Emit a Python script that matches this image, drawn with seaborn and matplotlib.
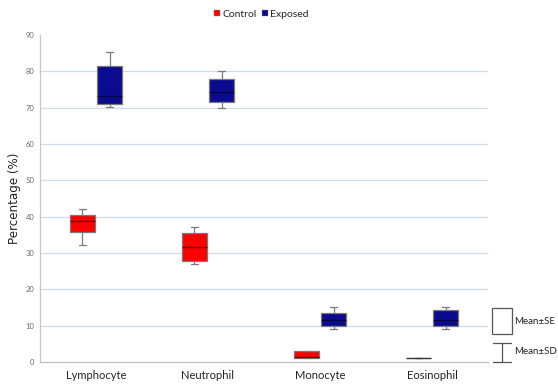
import numpy as np
import pandas as pd
import matplotlib
matplotlib.use("Agg")
import matplotlib.pyplot as plt
import seaborn as sns
from matplotlib.patches import Rectangle
from matplotlib.lines import Line2D

# ---- data (min, q1, median, q3, max) ----
cells = ["Lymphocyte", "Neutrophil", "Monocyte", "Eosinophil"]
groups = ["Control", "Exposed"]

lymphocyte_control = [32.3, 35.8, 38.7, 40.5, 42.1]
lymphocyte_exposed = [70.1, 70.9, 73.1, 81.5, 85.2]
neutrophil_control = [27.0, 27.7, 31.7, 35.5, 37.2]
neutrophil_exposed = [70.0, 71.6, 74.2, 77.9, 80.2]
monocyte_control = [1.0, 1.0, 1.3, 3.1, 3.1]
monocyte_exposed = [9.1, 9.8, 11.5, 13.6, 15.2]
eosinophil_control = [1.1, 1.1, 1.1, 1.1, 1.1]
eosinophil_exposed = [9.2, 9.8, 11.5, 14.4, 15.1]

yticks = [0, 10, 20, 30, 40, 50, 60, 70, 80, 90]

series = {
    ("Lymphocyte", "Control"): lymphocyte_control,
    ("Lymphocyte", "Exposed"): lymphocyte_exposed,
    ("Neutrophil", "Control"): neutrophil_control,
    ("Neutrophil", "Exposed"): neutrophil_exposed,
    ("Monocyte", "Control"): monocyte_control,
    ("Monocyte", "Exposed"): monocyte_exposed,
    ("Eosinophil", "Control"): eosinophil_control,
    ("Eosinophil", "Exposed"): eosinophil_exposed,
}
rows = []
for (cell, grp), vals in series.items():
    for v in vals:
        rows.append({"cell": cell, "group": grp, "pct": v})
df = pd.DataFrame(rows)

colors = {"Control": "#ff0000", "Exposed": "#0b0b8f"}

sns.set_theme(style="white")
fig = plt.figure(figsize=(5.58, 3.85), dpi=100)
ax = fig.add_axes([40 / 558, 1 - 362 / 385, 448 / 558, 327 / 385])

sns.boxplot(data=df, x="cell", y="pct", hue="group", order=cells,
            hue_order=groups, palette=colors, saturation=1,
            whis=(0, 100), width=0.49, gap=0.07, linecolor="#7a7a7a",
            linewidth=0.9, medianprops=dict(color="black", alpha=0.55, linewidth=1.0),
            legend=False, ax=ax, zorder=3)

# narrow the whisker caps
for ln in ax.lines:
    xd, yd = np.asarray(ln.get_xdata(), float), np.asarray(ln.get_ydata(), float)
    if len(xd) == 2 and yd[0] == yd[1]:
        span = abs(xd[1] - xd[0])
        if 0 < span < 0.2:
            c = xd.mean()
            ln.set_xdata([c - 0.032, c + 0.032])

ax.set_xlim(-0.5, 3.5)
ax.set_ylim(0, 90)
ax.set_yticks(yticks)
ax.set_yticklabels([str(t) for t in yticks], fontsize=5.5, color="#6b6b6b",
                   family="Lato")
ax.set_xticks(range(len(cells)))
ax.set_xticklabels(cells, fontsize=8, color="#222222", family="Lato")
ax.tick_params(axis="both", length=0, pad=4)
ax.tick_params(axis="x", pad=6)
ax.set_xlabel("")
ax.set_ylabel("Percentage (%)", fontsize=8.6, color="#222222", labelpad=3)

for y in yticks[1:-1]:
    ax.axhline(y, color="#cfdbef", linewidth=0.9, zorder=0)
for s in ["top", "right"]:
    ax.spines[s].set_visible(False)
ax.spines["left"].set_color("#c8c8c8")
ax.spines["bottom"].set_color("#bdbdbd")
ax.spines["left"].set_linewidth(0.9)
ax.spines["bottom"].set_linewidth(0.9)

# top legend
handles = [Line2D([], [], marker="s", linestyle="", markersize=5,
                  markerfacecolor=colors[g], markeredgecolor="#888888",
                  markeredgewidth=0.3, label=g) for g in groups]
fig.legend(handles=handles, loc="center", bbox_to_anchor=(0.468, 1 - 14 / 385),
           ncol=2, frameon=False, handlelength=0.6,
           handletextpad=0.2, columnspacing=0.5, prop={"family": "Lato", "size": 7.5})

# right-side key
W, H = 558, 385
fig.patches.append(Rectangle((492 / W, 1 - 334 / H), 20 / W, 26 / H,
                             transform=fig.transFigure, facecolor="white",
                             edgecolor="#555555", linewidth=0.9))
fig.lines.append(Line2D([502 / W, 502 / W], [1 - 343 / H, 1 - 362 / H],
                        transform=fig.transFigure, color="#555555", linewidth=0.9))
for yy in [343, 362]:
    fig.lines.append(Line2D([493 / W, 511 / W], [1 - yy / H, 1 - yy / H],
                            transform=fig.transFigure, color="#555555", linewidth=0.9))
fig.text(514 / W, 1 - 321 / H, "Mean±SE", fontsize=7, family="Lato",
         color="#222222", va="center", ha="left")
fig.text(514 / W, 1 - 352 / H, "Mean±SD", fontsize=7, family="Lato",
         color="#222222", va="center", ha="left")

fig.savefig("out.png", dpi=100)
